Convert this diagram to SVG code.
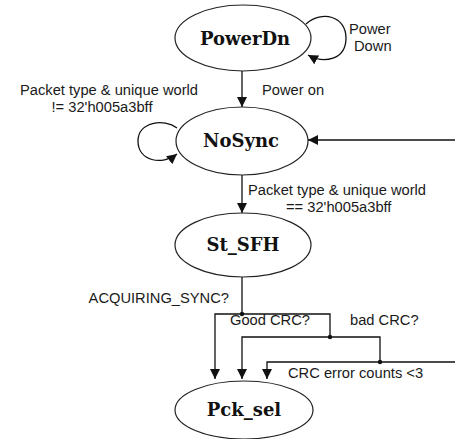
<svg xmlns="http://www.w3.org/2000/svg" width="455" height="439" viewBox="0 0 455 439">
  <style>
    .state { fill: #ffffff; stroke: #222; stroke-width: 1.2; }
    .name { font-family: "DejaVu Serif", "Liberation Serif", serif; font-weight: bold; font-size: 18px; fill: #111; text-anchor: middle; }
    .lbl { font-family: "Liberation Sans", Arial, sans-serif; font-size: 14.7px; fill: #1a1a1a; }
    .wire { fill: none; stroke: #111; stroke-width: 1.3; }
    .dot { fill: #111; }
  </style>
  <defs>
    <marker id="arrowBig" viewBox="0 0 10 10" refX="10" refY="5" markerWidth="10" markerHeight="10" orient="auto" markerUnits="userSpaceOnUse">
      <path d="M0,0 L10,5 L0,10 z" fill="#111"/>
    </marker>
  </defs>

  <!-- transitions -->
  <g id="connectors">
    <!-- PowerDn self loop -->
    <path class="wire" d="M306 24 C322 10, 346 16, 346 38 C346 60, 324 64, 308 55" marker-end="url(#arrowBig)"/>
    <!-- PowerDn -> NoSync -->
    <line class="wire" x1="242" y1="71" x2="242" y2="107" marker-end="url(#arrowBig)"/>
    <!-- NoSync self loop -->
    <path class="wire" d="M177 128 C164 118, 138 122, 138 141 C138 161, 162 166, 177 154" marker-end="url(#arrowBig)"/>
    <!-- return into NoSync from the right -->
    <line class="wire" x1="455" y1="140" x2="308" y2="140" marker-end="url(#arrowBig)"/>
    <!-- NoSync -> St_SFH -->
    <line class="wire" x1="242" y1="175" x2="242" y2="213" marker-end="url(#arrowBig)"/>
    <!-- St_SFH branch tree -> Pck_sel -->
    <polyline class="wire" points="242,277 242,314"/>
    <polyline class="wire" points="215,378 215,314 330,314 330,337"/>
    <polyline class="wire" points="242,378 242,337 380,337 380,362"/>
    <polyline class="wire" points="267,378 267,362 455,362"/>
    <line class="wire" x1="215" y1="370" x2="215" y2="379" marker-end="url(#arrowBig)"/>
    <line class="wire" x1="242" y1="370" x2="242" y2="379" marker-end="url(#arrowBig)"/>
    <line class="wire" x1="267" y1="370" x2="267" y2="379" marker-end="url(#arrowBig)"/>
    <circle class="dot" cx="242" cy="314" r="2.2"/>
    <circle class="dot" cx="330" cy="337" r="2.2"/>
    <circle class="dot" cx="380" cy="362" r="2.2"/>
  </g>

  <!-- transition labels -->
  <g id="labels">
    <text class="lbl" x="349" y="34">Power</text>
    <text class="lbl" x="354" y="51">Down</text>
    <text class="lbl" x="262" y="95">Power on</text>
    <text class="lbl" x="109" y="95" text-anchor="middle">Packet type &amp; unique world</text>
    <text class="lbl" x="102" y="112" text-anchor="middle">!= 32'h005a3bff</text>
    <text class="lbl" x="248" y="195">Packet type &amp; unique world</text>
    <text class="lbl" x="286" y="212">== 32'h005a3bff</text>
    <text class="lbl" x="229" y="303" text-anchor="end">ACQUIRING_SYNC?</text>
    <text class="lbl" x="230" y="325">Good CRC?</text>
    <text class="lbl" x="350" y="325">bad CRC?</text>
    <text class="lbl" x="288" y="378">CRC error counts &lt;3</text>
  </g>

  <g id="PowerDn">
    <ellipse class="state" cx="243" cy="38" rx="68" ry="33"/>
    <text class="name" x="245" y="45">PowerDn</text>
  </g>
  <g id="NoSync">
    <ellipse class="state" cx="242" cy="141" rx="66" ry="34"/>
    <text class="name" x="241" y="147">NoSync</text>
  </g>
  <g id="St_SFH">
    <ellipse class="state" cx="243" cy="245" rx="68" ry="32"/>
    <text class="name" x="243" y="251">St_SFH</text>
  </g>
  <g id="Pck_sel">
    <ellipse class="state" cx="244" cy="410" rx="69" ry="29"/>
    <text class="name" x="244" y="416">Pck_sel</text>
  </g>
</svg>
